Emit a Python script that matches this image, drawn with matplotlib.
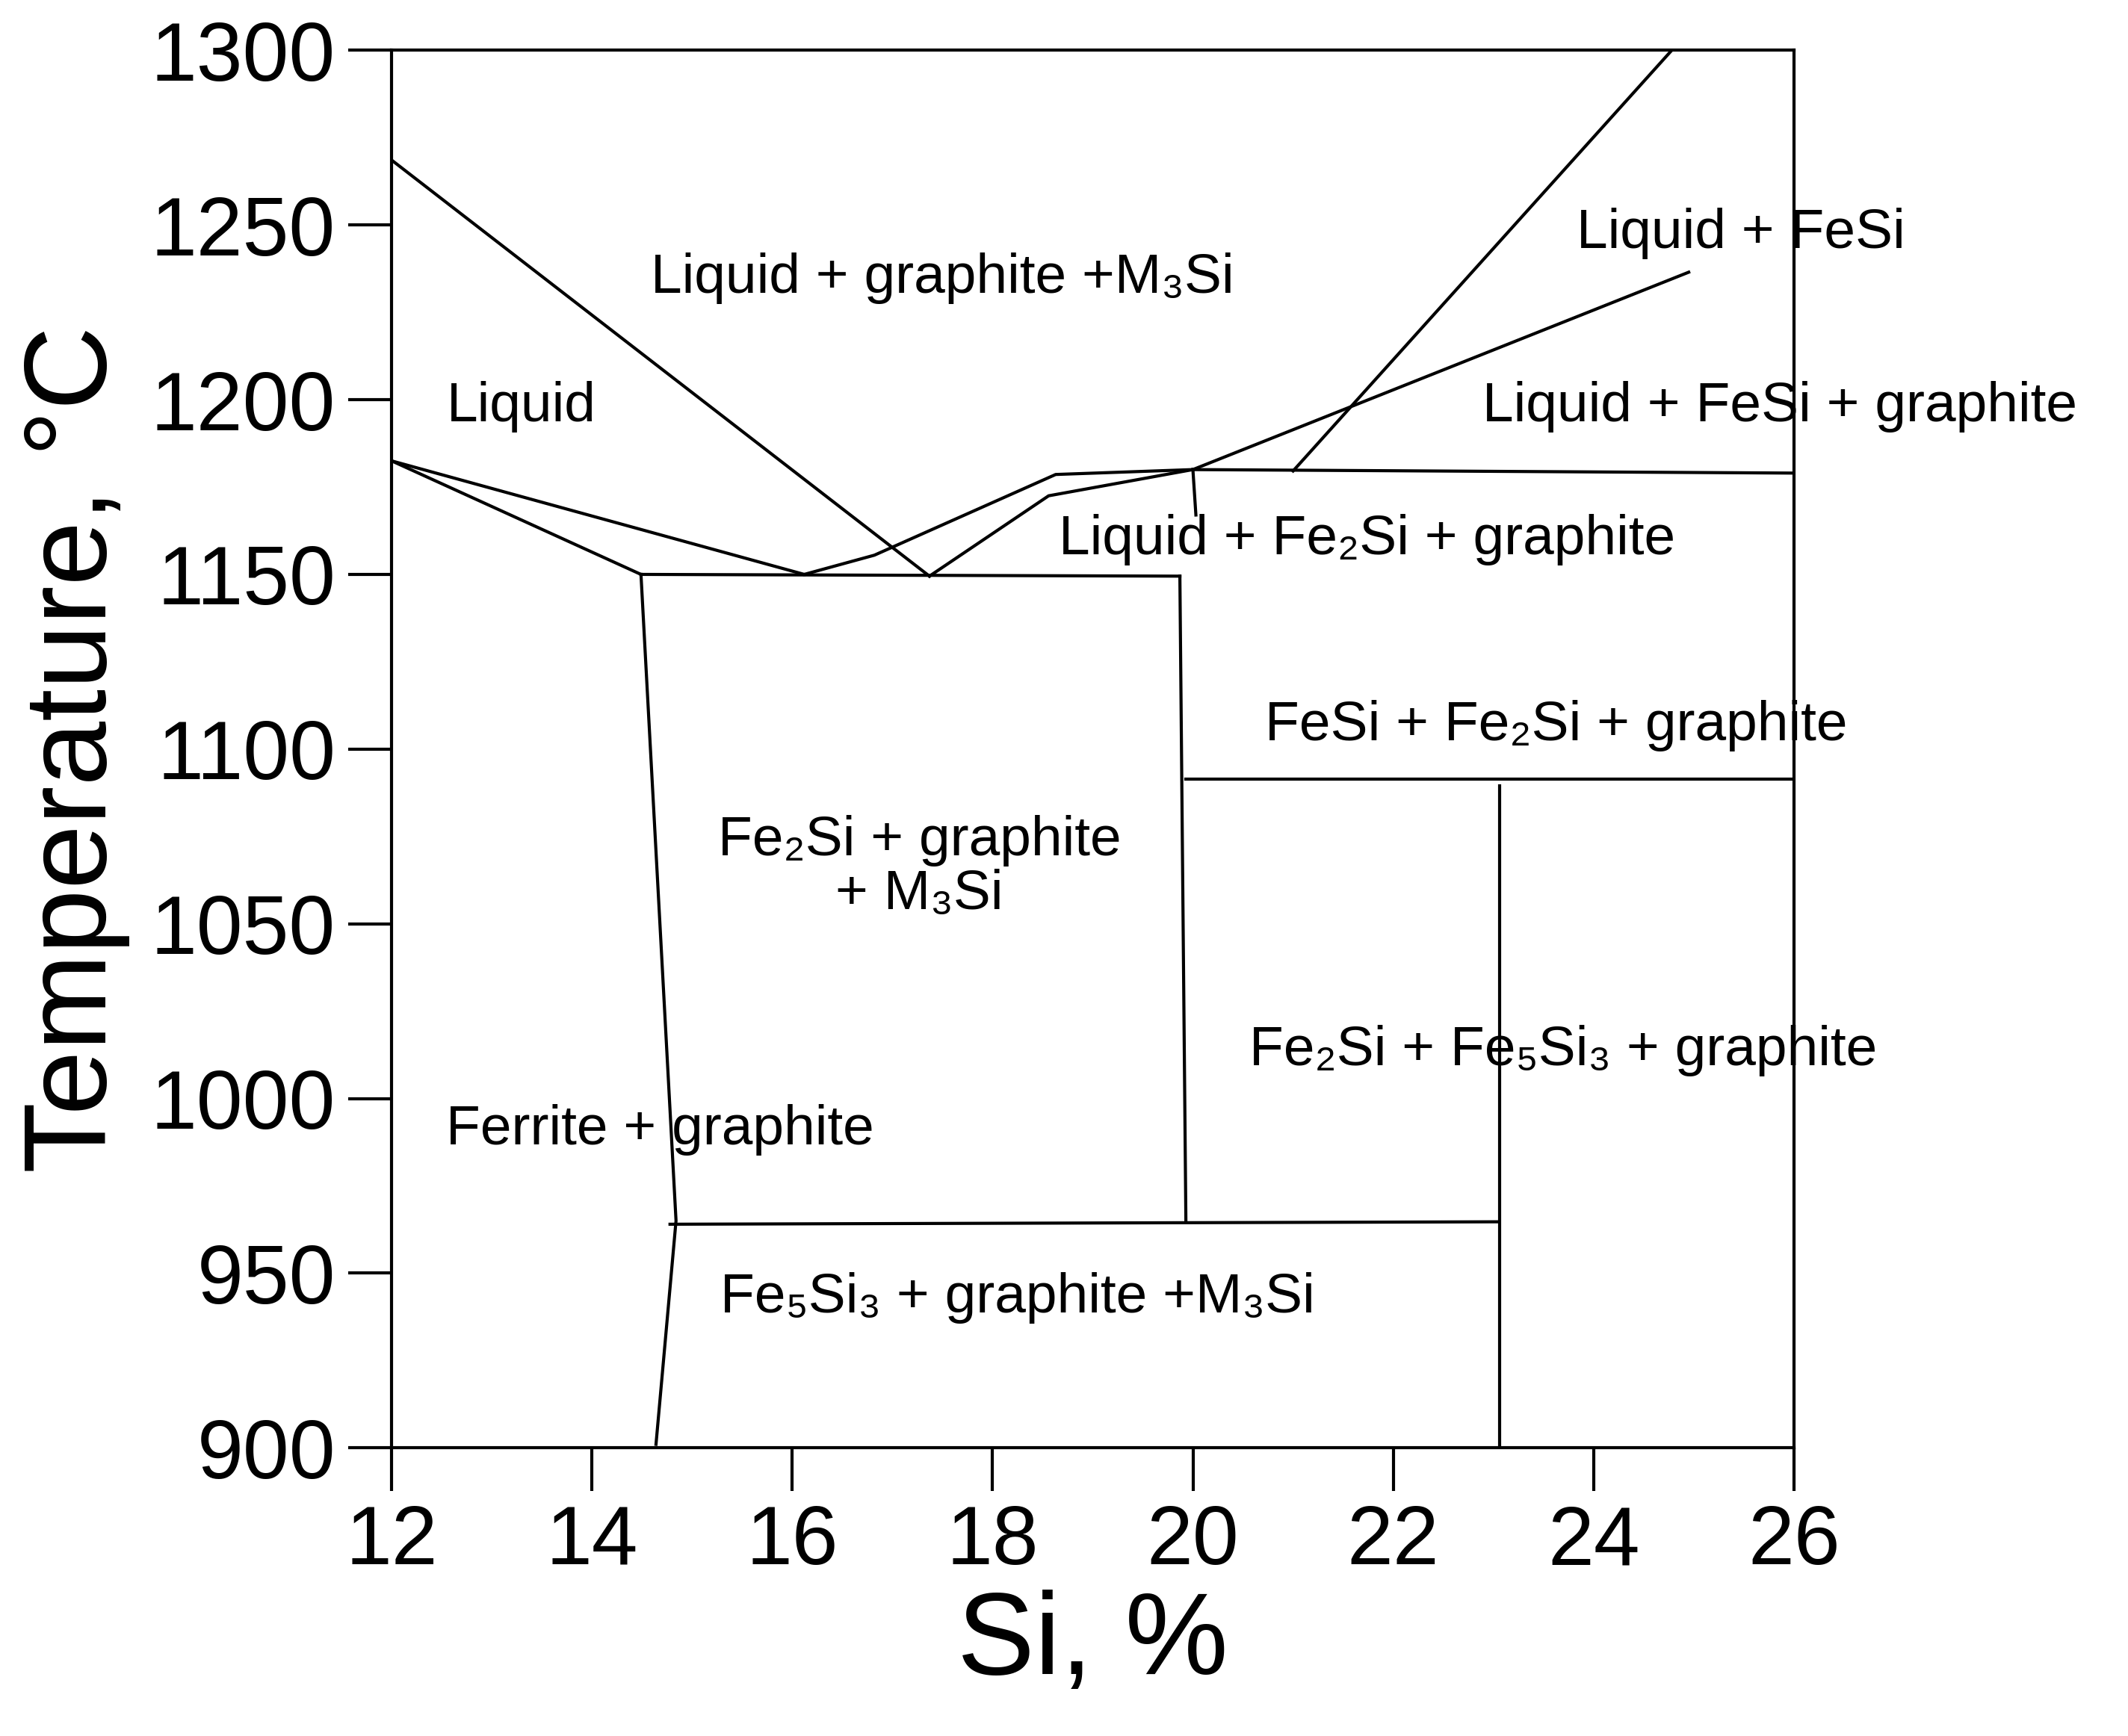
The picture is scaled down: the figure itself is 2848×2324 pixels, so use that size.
import matplotlib.pyplot as plt

plt.rcParams['font.family'] = ['Liberation Sans', 'DejaVu Sans']

# phase boundary polylines (Si %, temperature)
lines = [
    ([12.0, 17.37], [1268.6, 1149.5]),
    ([12.0, 16.12], [1182.5, 1150.0]),
    ([12.0, 14.49], [1182.5, 1150.0]),
    ([14.49, 19.87], [1150.0, 1149.5]),
    ([16.12, 16.82, 18.63, 20.0], [1150.0, 1155.5, 1178.6, 1180.0]),
    ([17.37, 18.56, 20.0, 24.95], [1149.5, 1172.5, 1180.0, 1236.5]),
    ([20.0, 20.03], [1180.0, 1167.0]),
    ([20.0, 26.0], [1180.0, 1179.0]),
    ([21.0, 24.78], [1179.6, 1300.0]),
    ([19.87, 19.93], [1149.5, 965.0]),
    ([19.93, 26.0], [1091.5, 1091.5]),
    ([23.06, 23.06], [1089.5, 900.0]),
    ([14.49, 14.84, 14.64], [1150.0, 965.0, 901.0]),
    ([14.78, 23.06], [964.0, 964.7]),
]

labels = [
    (17.5, 1234.8, "Liquid + graphite +M₃Si"),
    (13.3, 1198.0, "Liquid"),
    (25.47, 1247.6, "Liquid + FeSi"),
    (25.86, 1198.0, "Liquid + FeSi + graphite"),
    (21.74, 1160.0, "Liquid + Fe₂Si + graphite"),
    (23.63, 1106.8, "FeSi + Fe₂Si + graphite"),
    (17.27, 1066.0, "Fe₂Si + graphite\n+ M₃Si"),
    (23.7, 1013.7, "Fe₂Si + Fe₅Si₃ + graphite"),
    (14.68, 991.0, "Ferrite + graphite"),
    (18.25, 943.0, "Fe₅Si₃ + graphite +M₃Si"),
]

fig = plt.figure(figsize=(14.24, 11.62), dpi=200)
ax = fig.add_axes([0.184, 0.166, 0.659, 0.805])

for xs, ys in lines:
    ax.plot(xs, ys, color='black', linewidth=1.5)

for x, y, s in labels:
    ax.text(x, y, s, ha='center', va='center', fontsize=27, linespacing=1.05)

ax.set_xlim(12, 26)
ax.set_ylim(900, 1300)
ax.set_xticks(range(12, 27, 2))
ax.set_yticks(range(900, 1301, 50))
ax.tick_params(direction='out', length=21, width=1.5, labelsize=40, pad=6)
for sp in ax.spines.values():
    sp.set_linewidth(1.5)
ax.set_xlabel("Si, %", fontsize=56, labelpad=4)
ax.set_ylabel("Temperature, °C", fontsize=56, labelpad=10)

fig.savefig("out.png", dpi=200)
